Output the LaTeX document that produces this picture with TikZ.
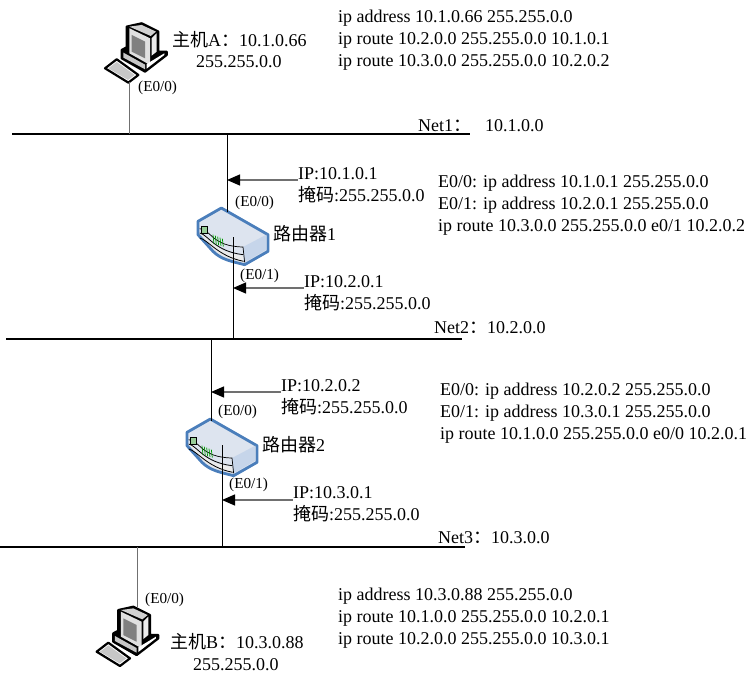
\documentclass[tikz,border=0pt]{standalone}
\usepackage{fontspec}
\setmainfont{Liberation Serif}
\newfontfamily\cjk{Noto Sans CJK SC}
\usetikzlibrary{arrows.meta}
\definecolor{routerblue}{HTML}{4A7EBB}
\definecolor{routertop}{HTML}{DDE4EF}
\definecolor{routerside}{HTML}{C6D5EA}
\definecolor{wiregray}{HTML}{707070}
\tikzset{
    txt/.style = {anchor=west, inner sep=0pt, yshift=-2pt, align=left, font=\fontsize{18}{22.2}\selectfont},
    small/.style = {anchor=west, inner sep=0pt, font=\fontsize{15.2}{17}\selectfont},
    bar/.style = {draw, line width=1.6pt},
    wire/.style = {draw=wiregray, line width=1pt},
    wiredark/.style = {draw, line width=.9pt},
    arrow/.style = {draw=wiregray, line width=1.2pt, {Triangle[black,length=13pt,width=11pt]}-},
    host/.pic = {
        \begin{scope}[x=.3333pt,y=-.3333pt]
            % keyboard
            \filldraw[line width=2.2pt,line join=round,fill=white] (-65,135) -- (-30,108) -- (35,155) -- (5,178) -- cycle;
            \fill[black!22] (-55,135) -- (-30,116) -- (24,155) -- (4,170) -- cycle;
            % body
            \filldraw[line width=2.2pt,line join=round] (0,10) -- (45,0) -- (95,25) -- (95,85) -- (120,85) -- (120,95) -- (55,145) -- (-15,105) -- (-15,80) -- (0,72) -- cycle;
            \fill[black!12] (8,15) -- (70,45) -- (70,125) -- (8,90) -- cycle;
            \fill[black!50] (15,35) -- (55,55) -- (55,105) -- (15,85) -- cycle;
            \fill[black!8] (75,45) -- (90,30) -- (90,85) -- (75,97) -- cycle;
            \fill[black!18] (8,10) -- (45,5) -- (88,25) -- (72,38) -- cycle;
            \fill[black!22] (-10,88) -- (55,124) -- (55,138) -- (-10,103) -- cycle;
            \fill[white] (60,122) -- (113,90) -- (113,95) -- (60,136) -- cycle;
        \end{scope}
    },
    router/.pic = {
        \begin{scope}[x=.3333pt,y=-.3333pt]
            % body
            \filldraw[draw=routerblue,line width=2.8pt,line join=round,fill=routertop]
                (0,40) -- (70,0) -- (210,80) -- (210,130) -- (140,170)
                .. controls (100,160) and (70,155) .. (45,130) -- (0,80) -- cycle;
            \fill[routerside] (135,117) -- (205,80) -- (205,125) -- (140,163) -- cycle;
            \fill[black!8] (5,75) .. controls (30,85) and (50,115) .. (80,130) -- (135,145) -- (135,163) .. controls (90,150) and (60,140) .. (45,120) -- cycle;
            % front
            \draw[line width=.7pt] (5,62) .. controls (40,65) and (40,115) .. (135,117) -- (140,163);
            \draw[line width=.8pt] (5,75) .. controls (30,80) and (50,130) .. (135,140);
            \draw[line width=.8pt] (5,90) .. controls (30,95) and (60,145) .. (137,160);
            \draw[line width=.7pt,fill=green!35!gray!60] (10,55) rectangle (27,75);
            \foreach \a in {0,1,2,3,4}{
                \draw[green!60!black,line width=.7pt] (45+\a*7,80+\a*3) -- (48+\a*7,108+\a*2);
            }
        \end{scope}
    }
}
\begin{document}
\begin{tikzpicture}[x=1pt,y=-1pt]
    \useasboundingbox (0,0) rectangle (748,677);
    % networks
    \foreach \a/\xl/\xr/\yy in {1/12/470/134,2/6/462/339,3/0/465/547}{
        \coordinate (net\a l) at (\xl,\yy);
        \coordinate (net\a r) at (\xr,\yy);
        \draw[bar] (net\a l) -- (net\a r);
    }
    % hosts and routers
    \pic at (126.7,23.3) {host};
    \pic at (118.3,606.7) {host};
    \pic at (198,208) {router};
    \pic at (187,419) {router};
    \coordinate (hosta) at (129,82);
    \coordinate (hostb) at (137,607);
    \coordinate (rone) at (227,212);
    \coordinate (rones) at (233,237);
    \coordinate (rtwo) at (211,421);
    \coordinate (rtwos) at (222,445);
    \draw[wire] (hosta) -- (hosta |- net1l);
    \draw[wire] (hostb) -- (hostb |- net3l);
    \draw[wiredark] (rone) -- (rone |- net1l);
    \draw[wiredark] (rones) -- (rones |- net2l);
    \draw[wiredark] (rtwo) -- (rtwo |- net2l);
    \draw[wiredark] (rtwos) -- (rtwos |- net3l);
    % interface labels
    \node[txt] (hostalabel) at (172,38) {{\cjk 主机}A{\cjk ：}10.1.0.66};
    \node[txt] (hostamask) at (196,60) {255.255.0.0};
    \node[txt] (hostblabel) at (170,640) {{\cjk 主机}B{\cjk ：}10.3.0.88};
    \node[txt] (hostbmask) at (193,663) {255.255.0.0};
    \node[txt] (ronelabel) at (273,232) {{\cjk 路由器}1};
    \node[txt] (rtwolabel) at (262,443) {{\cjk 路由器}2};
    \foreach \a/\xx/\yy/\port in {a/138/88/0,b/235/203/0,c/240/276/1,d/218/412/0,e/229/485/1,f/145/600/0}{
        \node[small] (port\a) at (\xx,\yy) {(E0/\port)};
    }
    % addresses
    \foreach \a/\xx/\yy/\ip in {a/298/183/10.1.0.1,b/304/291/10.2.0.1,c/281/395/10.2.0.2,d/293/502/10.3.0.1}{
        \node[txt] (addr\a) at (\xx,\yy) {IP:\ip\\{\cjk 掩码}:255.255.0.0};
    }
    \coordinate (tipa) at (rone |- 0,180);
    \coordinate (tipb) at (rones |- 0,288);
    \coordinate (tipc) at (rtwo |- 0,392);
    \coordinate (tipd) at (rtwos |- 0,500);
    \foreach \a in {a,b,c,d}{
        \draw[arrow] (tip\a) -- (addr\a.north west |- tip\a);
    }
    % nets
    \node[txt] (netone) at (418,124) {Net1{\cjk ：}\hspace{14pt}10.1.0.0};
    \node[txt] (nettwo) at (434,326) {Net2{\cjk ：}10.2.0.0};
    \node[txt] (netthree) at (438,536) {Net3{\cjk ：}10.3.0.0};
    % configs
    \node[txt] (cfga) at (338,38) {ip address 10.1.0.66 255.255.0.0\\ip route 10.2.0.0 255.255.0.0 10.1.0.1\\ip route 10.3.0.0 255.255.0.0 10.2.0.2};
    \node[txt] (cfgb) at (438,203) {E0/0: ip address 10.1.0.1 255.255.0.0\\E0/1: ip address 10.2.0.1 255.255.0.0\\ip route 10.3.0.0 255.255.0.0 e0/1 10.2.0.2};
    \node[txt] (cfgc) at (440,411) {E0/0: ip address 10.2.0.2 255.255.0.0\\E0/1: ip address 10.3.0.1 255.255.0.0\\ip route 10.1.0.0 255.255.0.0 e0/0 10.2.0.1};
    \node[txt] (cfgd) at (338,616) {ip address 10.3.0.88 255.255.0.0\\ip route 10.1.0.0 255.255.0.0 10.2.0.1\\ip route 10.2.0.0 255.255.0.0 10.3.0.1};
\end{tikzpicture}
\end{document}
